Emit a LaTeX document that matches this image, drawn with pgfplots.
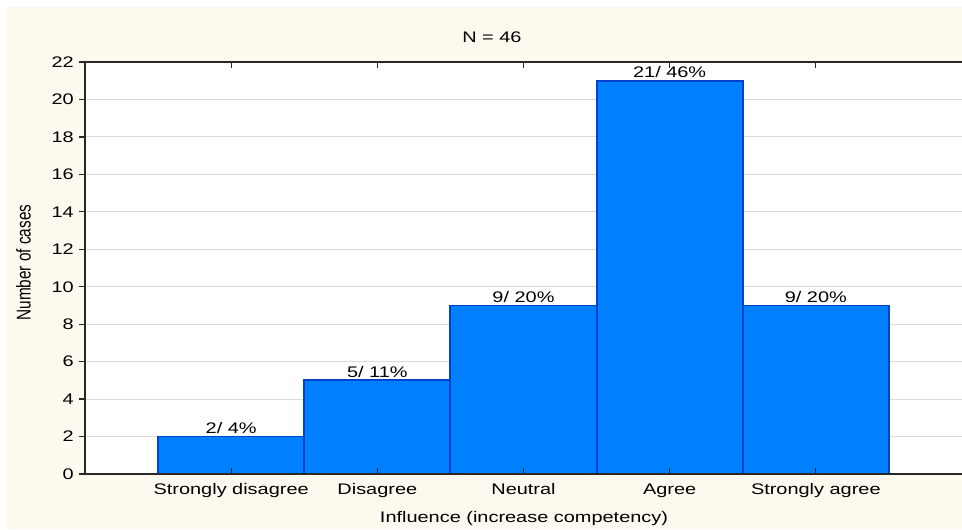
\documentclass[border=0pt]{standalone}
\usepackage{pgfplots}
\pgfplotsset{compat=1.18}
\usepackage{pgfplotstable}
\usepackage{graphicx}
\usepackage{fontspec}
\setmainfont{Liberation Sans}

\definecolor{cream}{RGB}{254,249,239}
\definecolor{barfill}{RGB}{0,128,255}
\definecolor{baredge}{RGB}{0,66,204}
\definecolor{gridgray}{RGB}{218,218,218}
\definecolor{axisgray}{RGB}{40,40,40}

\newcommand{\hs}[1]{\scalebox{1.3}[1]{#1}}

\pgfplotstableread[col sep=comma]{
x,y,lab
0,2,{2/ 4\%}
1,5,{5/ 11\%}
2,9,{9/ 20\%}
3,21,{21/ 46\%}
4,9,{9/ 20\%}
}\datatable

\begin{document}
\fontsize{11.5}{13}\selectfont
\begin{tikzpicture}[font=\fontsize{11.5}{13}\selectfont]
\fill[white, x=0.75pt, y=0.75pt] (-85,-56) rectangle (900,474);
\fill[cream, x=0.75pt, y=0.75pt] (-78,-55) rectangle (900,467);
\fill[white, x=0.75pt, y=0.75pt] (0,0) rectangle (900,412);
\begin{axis}[
  at={(0,0)}, anchor=south west,
  scale only axis, width=657.75pt, height=309pt,
  xmin=-1, xmax=5, ymin=0, ymax=22,
  ybar, bar width=1,
  axis line style={draw=none},
  major tick length=0pt,
  /pgf/number format/assume math mode=true,
  ytick={0,2,...,22},
  yticklabel={\hs{\pgfmathprintnumber{\tick}}},
  ymajorgrids, grid style={gridgray, line width=0.75pt},
  xtick={0,1,2,3,4},
  xticklabels={\hs{Strongly disagree},\hs{Disagree},\hs{Neutral},\hs{Agree},\hs{Strongly agree}},
  tick label style={inner sep=0pt, font=\fontsize{11.5}{13}\selectfont},
  yticklabel style={anchor=east, xshift=-8.25pt},
  xticklabel style={anchor=base, yshift=-15.75pt},
  title={\hs{N = 46}},
  title style={at={(axis description cs:0.464,1)}, anchor=base, yshift=8.5pt, inner sep=0pt, font=\fontsize{11.5}{13}\selectfont},
  xlabel={\hs{Influence (increase competency)}},
  xlabel style={at={(axis description cs:0.5006,0)}, anchor=base, yshift=-36.75pt, inner sep=0pt, font=\fontsize{11.5}{13}\selectfont},
  ylabel={\scalebox{1}[1.3]{Number of cases}},
  ylabel style={at={(axis description cs:-0.062,0.513)}, anchor=base, inner sep=0pt, font=\fontsize{11.5}{13}\selectfont},
  point meta=explicit symbolic,
  nodes near coords={\hs{\pgfplotspointmeta}},
  nodes near coords style={anchor=base, yshift=2.5pt, inner sep=0pt, font=\fontsize{11.5}{13}\selectfont, text=black},
]
\addplot[fill=barfill, draw=baredge, line width=1.4pt] table[x=x, y=y, meta=lab] {\datatable};
\end{axis}
\begin{axis}[
  at={(0,0)}, anchor=south west,
  scale only axis, width=657.75pt, height=309pt,
  xmin=-1, xmax=5, ymin=0, ymax=22,
  xtick={0,1,2,3,4}, ytick={0,2,...,22},
  xticklabels={}, yticklabels={},
  axis line style={draw=none},
  tick style={axisgray, line width=0.9pt},
  major tick length=4.5pt,
  xtick align=inside, ytick align=outside,
  xtick pos=both, ytick pos=left,
  clip=false,
]
\draw[axisgray, line width=1.2pt] (rel axis cs:1.02,1) -- (rel axis cs:0,1) -- (rel axis cs:0,0) -- (rel axis cs:1.02,0);
\end{axis}
\pgfresetboundingbox
\path[x=0.75pt, y=0.75pt] (-85,-56) rectangle (877,474);
\end{tikzpicture}
\end{document}
